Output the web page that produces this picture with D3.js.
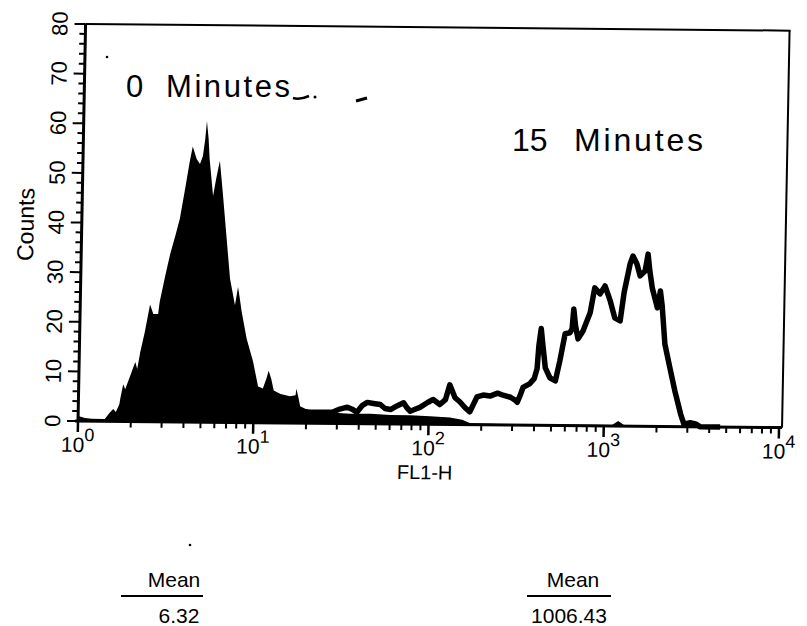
<!DOCTYPE html>
<html>
<head>
<meta charset="utf-8">
<script src="https://cdn.jsdelivr.net/npm/d3@7"></script>
<style>
body{margin:0;background:#fff;}
svg{display:block;font-family:"Liberation Sans",Arial,Helvetica,sans-serif;}
</style>
</head>
<body>
<svg width="807" height="626"></svg>
<script>
// kanaly FL1-H (0-1023, 4 dekady po 256 kanalow) i liczby zdarzen
var kanaly0 = [0,10,20,39,46,51,55,60,61,65,68,75,82,85,89,95,102,107,114,116,123,130,137,143,150,156,160,166,171,175,178,180,183,185,191,195,200,205,211,218,226,230,233,236,244,254,262,269,274,277,281,285,295,309,317,318,321,324,339,368,397,427,456,485,514,543,561,573,616,780,789,798,1023];
var zdarzenia0 = [1.0,0.6,0.5,0.45,1.7,2.5,1.9,3.5,4.5,7.5,6.5,9.2,12,10.6,14,18,23.6,21.7,21.7,24.2,29.2,33.8,37.5,40.9,47,52.5,55.5,53,52,53.6,57,60.7,57,53,45.6,49,52.7,46.4,38.4,29,23.6,27.3,24.9,22.3,16.9,12.3,7.3,6.9,8.9,10.5,8.9,6.5,5.8,5.4,5.6,6.9,5.3,3.4,2.4,2.2,2.0,2.0,1.8,1.8,1.6,1.4,1.0,0.3,0.2,0.2,1.0,0.2,0];

var kanaly15 = [255,290,309,324,339,353,372,382,393,400,407,415,422,431,441,448,456,466,475,480,485,492,499,510,518,528,536,542,550,557,565,572,578,582,591,601,612,620,631,638,641,645,649,659,665,669,671,674,677,681,688,696,702,709,716,719,721,724,728,735,745,751,759,766,774,781,789,794,802,806,812,817,824,826,828,831,835,843,847,850,855,863,871,880,885,894,902,909,938];
var zdarzenia15 = [0.5,1.5,2.2,2.4,2.2,2.2,2.3,2.9,3.3,2.9,2.3,3.7,4.3,4.1,3.9,3.1,2.9,3.7,4.3,3.3,2.6,3.0,3.4,4.4,5.0,4.0,5.0,8.0,5.4,4.6,3.4,2.6,4.4,5.6,6.0,5.8,6.4,6.0,5.6,5.0,4.6,6.0,7.6,8.4,9.4,11.4,16,19.5,16,11.6,9.6,9.0,13,18.5,18.7,19.5,23.5,20.1,17.5,19.1,22.8,27.8,26.6,28.2,25.2,21.8,21.2,26.9,32.7,34.3,32.7,30.3,31.3,32.9,34.7,31.3,27.9,23.9,27.3,24.3,16.6,11.8,7.1,2.5,0.5,0.8,0.6,0,0];

var dekady = [0,1,2,3,4];          // wykladniki 10^n na osi X
var podzialkiY = [0,10,20,30,40,50,60,70,80];
var srednie = ["6.32","1006.43"];
var opisyCzasu = ["0","15"];

var svg = d3.select("svg");
var x = d3.scaleLog().domain([1,10000]).range([78,779]);
var y = d3.scaleLinear().domain([0,80]).range([421,24]);
function wartosc(k){ return Math.pow(10, k/256); }

// caly arkusz lekko przekrzywiony
var g = svg.append("g").attr("transform","matrix(1,0.0094,-0.019,1,8.02,-0.73)");

var dane0 = kanaly0.map(function(k,i){ return {k:k, n:zdarzenia0[i]}; });
var dane15 = kanaly15.map(function(k,i){ return {k:k, n:zdarzenia15[i]}; });

// 0 minut - wypelniony
g.append("path")
	.datum(dane0)
	.attr("d", d3.area().x(function(d){return x(wartosc(d.k));}).y0(y(0)).y1(function(d){return y(d.n);}))
	.style("fill","#000");

// 15 minut - sam kontur, gruba kreska
g.append("path")
	.datum(dane15)
	.attr("d", d3.line().x(function(d){return x(wartosc(d.k));}).y(function(d){return y(d.n);}))
	.style("fill","none")
	.style("stroke","#000")
	.style("stroke-width",5.5)
	.style("stroke-linejoin","round");

// ramka
g.append("line").attr("x1",x(1)).attr("y1",y(80)).attr("x2",x(10000)+4).attr("y2",y(80))
	.style("stroke","#000").style("stroke-width",2);
g.append("line").attr("x1",x(10000)+3).attr("y1",y(80)).attr("x2",x(10000)+3).attr("y2",y(0))
	.style("stroke","#000").style("stroke-width",2);

// os Y
g.append("line").attr("x1",x(1)).attr("y1",y(80)).attr("x2",x(1)).attr("y2",y(0)+1)
	.style("stroke","#000").style("stroke-width",3);
for(let i=0;i<=80;i+=2){
	var dl = (i%10==0) ? 11 : 6;
	g.append("line").attr("x1",x(1)-dl).attr("y1",y(i)).attr("x2",x(1)).attr("y2",y(i))
		.style("stroke","#000").style("stroke-width",2);
}
podzialkiY.forEach(function(v){
	g.append("text")
		.attr("transform","translate(60,"+y(v)+") rotate(-90)")
		.attr("text-anchor","middle")
		.attr("font-size",22)
		.text(v);
});
g.append("text")
	.attr("transform","translate(30,225) rotate(-90)")
	.attr("text-anchor","middle")
	.attr("font-size",23)
	.text("Counts");

// os X
g.append("line").attr("x1",x(1)-3).attr("y1",y(0)).attr("x2",x(10000)+3).attr("y2",y(0))
	.style("stroke","#000").style("stroke-width",3);
dekady.forEach(function(n){
	g.append("line").attr("x1",x(Math.pow(10,n))).attr("y1",y(0)).attr("x2",x(Math.pow(10,n))).attr("y2",y(0)+11)
		.style("stroke","#000").style("stroke-width",2.5);
	if(n<4){
		for(let m=2;m<10;m++){
			g.append("line").attr("x1",x(m*Math.pow(10,n))).attr("y1",y(0)).attr("x2",x(m*Math.pow(10,n))).attr("y2",y(0)+6)
				.style("stroke","#000").style("stroke-width",2);
		}
	}
	var t = g.append("text")
		.attr("x",x(Math.pow(10,n)))
		.attr("y",452)
		.attr("text-anchor","middle")
		.attr("font-size",21);
	t.append("tspan").text("10");
	t.append("tspan").attr("dy",-11).attr("font-size",18).text(n);
});
g.append("text")
	.attr("x",x(100)-3)
	.attr("y",476)
	.attr("text-anchor","middle")
	.attr("font-size",20)
	.text("FL1-H");

// napisy czasu
svg.append("text").attr("x",126).attr("y",97).attr("font-size",31).text(opisyCzasu[0]);
svg.append("text").attr("x",166).attr("y",97).attr("font-size",31)
	.attr("textLength",124).attr("lengthAdjust","spacing").text("Minutes");
svg.append("text").attr("x",512).attr("y",151).attr("font-size",32).text(opisyCzasu[1]);
svg.append("text").attr("x",574).attr("y",151).attr("font-size",32)
	.attr("textLength",129).attr("lengthAdjust","spacing").text("Minutes");

// kreseczki przy napisie
svg.append("path").attr("d","M293,98 Q300,100 309,96").style("fill","none").style("stroke","#000").style("stroke-width",2.5);
svg.append("circle").attr("cx",315).attr("cy",97).attr("r",1.5).style("fill","#000");
svg.append("path").attr("d","M356,101 L367,98").style("fill","none").style("stroke","#000").style("stroke-width",3);
svg.append("circle").attr("cx",107).attr("cy",57).attr("r",1.3).style("fill","#000");
svg.append("circle").attr("cx",190).attr("cy",545).attr("r",1.3).style("fill","#000");

// srednie
var bloki = [{x:162, l1:121, l2:203}, {x:569, l1:527, l2:611}];
bloki.forEach(function(b,i){
	svg.append("text").attr("x",(b.l1+b.l2)/2+ (i==0?12:4)).attr("y",587)
		.attr("text-anchor","middle").attr("font-size",21).text("Mean");
	svg.append("line").attr("x1",b.l1).attr("y1",596).attr("x2",b.l2).attr("y2",596)
		.style("stroke","#000").style("stroke-width",2);
	svg.append("text").attr("x",i==0?179:569).attr("y",623)
		.attr("text-anchor","middle").attr("font-size",21).text(srednie[i]);
});
</script>
</body>
</html>
